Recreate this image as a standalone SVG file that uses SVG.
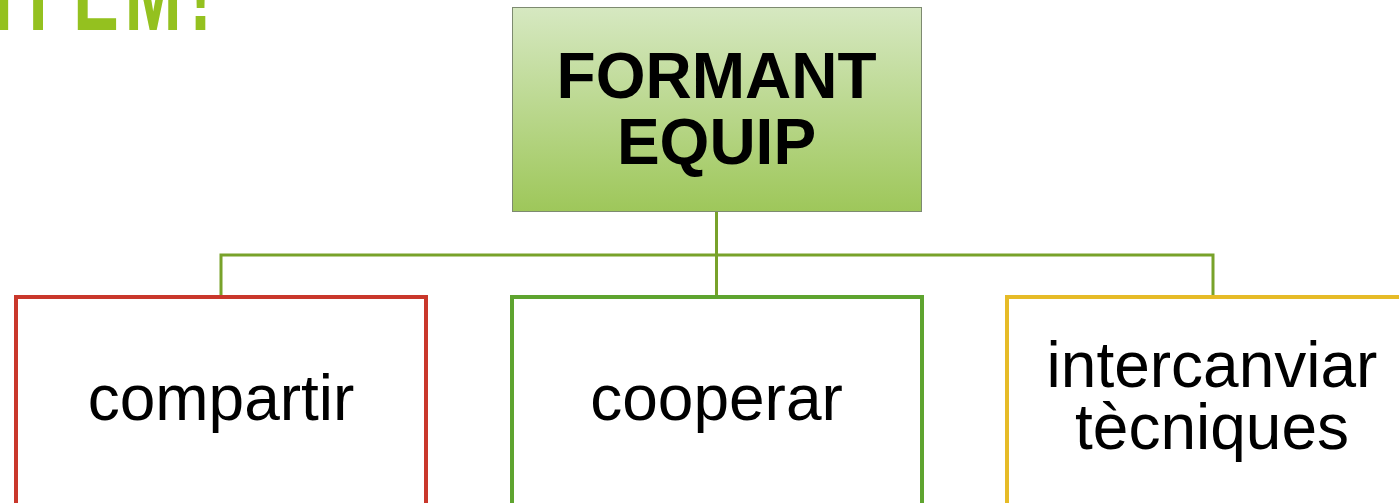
<svg xmlns="http://www.w3.org/2000/svg" width="1399" height="503" viewBox="0 0 1399 503">
<defs>
<linearGradient id="gTop" x1="0" y1="0" x2="0" y2="1">
<stop offset="0" stop-color="#d6e8c1"/>
<stop offset="1" stop-color="#9ec75a"/>
</linearGradient>
<style>
.lbl{font-family:"Liberation Sans",Arial,sans-serif;font-size:64px;fill:#000;text-anchor:middle}
.bold{font-weight:bold}
.conn{fill:none;stroke:#78a22a;stroke-width:3}
.child{fill:#fff;stroke-width:4}
</style>
</defs>
<rect width="1399" height="503" fill="#fff"/>
<text transform="scale(0.65,1)" x="-9.5 26.5 112.8 192 291" y="30" style="font-family:'Liberation Sans',Arial,sans-serif;font-size:105px;font-weight:bold;fill:#94c11f">ITEM!</text>
<g id="connectors">
<path class="conn" d="M716.5 211V255M221 296V255H1213V296M716.5 255V296"/>
</g>
<g id="node-formant">
<rect x="512.5" y="7.5" width="409" height="204" fill="url(#gTop)" stroke="#7d8a70" stroke-width="1"/>
<text class="lbl bold" x="716.5" y="98">FORMANT</text>
<text class="lbl bold" x="716.5" y="164">EQUIP</text>
</g>
<g id="node-compartir">
<rect class="child" x="16" y="297" width="410" height="220" stroke="#c9372b"/>
<text class="lbl" x="221" y="420">compartir</text>
</g>
<g id="node-cooperar">
<rect class="child" x="512" y="297" width="410" height="220" stroke="#5ea42f"/>
<text class="lbl" x="716.5" y="420">cooperar</text>
</g>
<g id="node-intercanviar">
<rect class="child" x="1007" y="297" width="420" height="220" stroke="#e6bb27"/>
<text class="lbl" x="1212" y="387">intercanviar</text>
<text class="lbl" x="1212" y="449">tècniques</text>
</g>
</svg>
